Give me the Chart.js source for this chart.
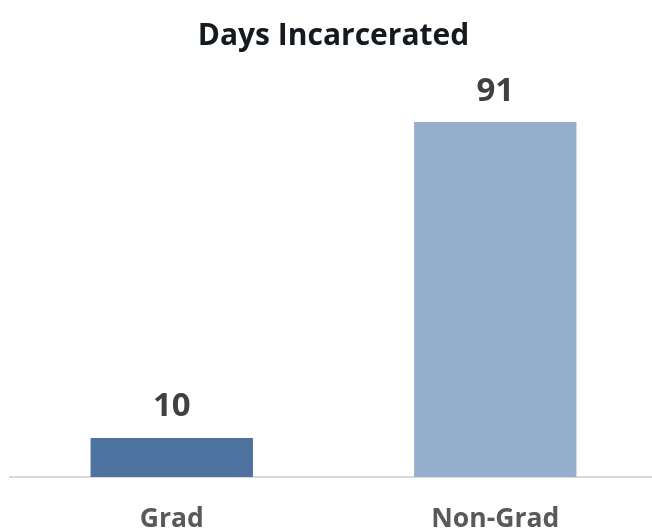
<!DOCTYPE html>
<html>
<head>
<meta charset="utf-8">
<script src="https://cdn.jsdelivr.net/npm/chart.js@4/dist/chart.umd.min.js"></script>
<style>
  html, body { margin: 0; padding: 0; background: #ffffff; overflow: hidden; }
  #wrap { width: 652px; height: 529px; overflow: hidden; }
  #chart { display: block; }
</style>
</head>
<body>
<div id="wrap"><canvas id="chart" width="657" height="529"></canvas></div>
<script>
const categories = ['Grad', 'Non-Grad'];
const daysIncarcerated = [10, 91];
const barColors = ['#4E72A0', '#95AFCD'];

// Bold value printed above each bar
const valueLabels = {
  id: 'valueLabels',
  afterDatasetsDraw(chart) {
    const ctx = chart.ctx;
    const meta = chart.getDatasetMeta(0);
    ctx.save();
    ctx.font = 'bold 33px "Open Sans"';
    ctx.fillStyle = '#404040';
    ctx.textAlign = 'center';
    ctx.textBaseline = 'middle';
    meta.data.forEach((bar, i) => {
      ctx.fillText(String(chart.data.datasets[0].data[i]), bar.x, bar.y - 31);
    });
    ctx.restore();
  }
};

new Chart(document.getElementById('chart'), {
  type: 'bar',
  data: {
    labels: categories,
    datasets: [{
      data: daysIncarcerated,
      backgroundColor: barColors,
      borderWidth: 0,
      categoryPercentage: 1,
      barPercentage: 0.502
    }]
  },
  options: {
    responsive: false,
    animation: false,
    devicePixelRatio: 1,
    layout: { padding: { left: 10, right: 0, top: 0, bottom: 0 } },
    plugins: {
      legend: { display: false },
      tooltip: { enabled: false },
      title: {
        display: true,
        text: 'Days Incarcerated',
        color: '#151a21',
        font: { family: '"Open Sans"', size: 30, weight: 'bold', lineHeight: 1.2 },
        padding: { top: 18, bottom: 33 }
      }
    },
    scales: {
      x: {
        grid: { display: false, drawTicks: false },
        border: { display: true, color: '#d9d9d9', width: 2 },
        ticks: {
          color: '#595959',
          padding: 27,
          font: { family: '"Open Sans"', size: 26.5, weight: 'bold', lineHeight: 1.2 }
        },
        afterFit(scale) { scale.height = 52; }
      },
      y: {
        display: false,
        min: 0,
        max: 100
      }
    }
  },
  plugins: [valueLabels]
});
</script>
</body>
</html>
